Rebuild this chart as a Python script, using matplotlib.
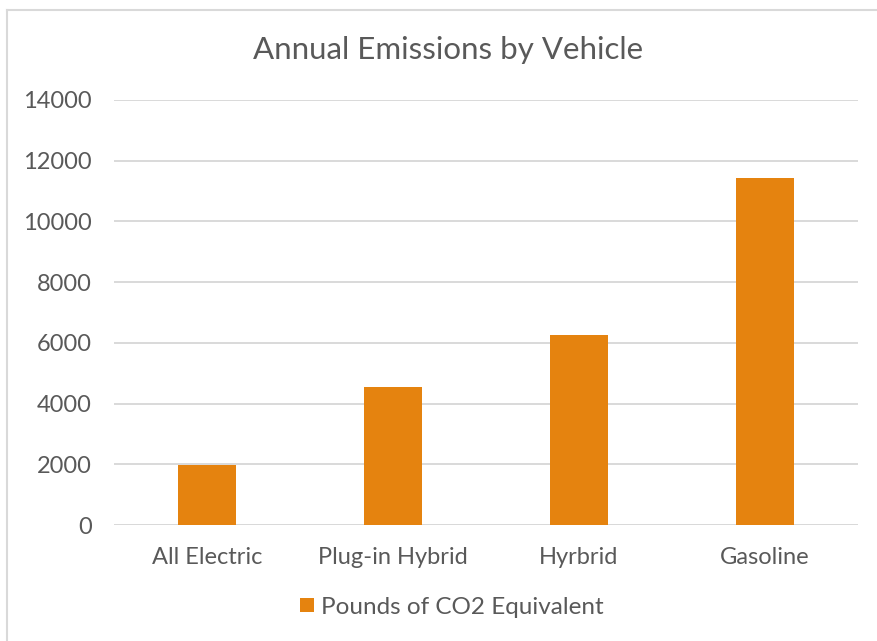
import matplotlib
matplotlib.use("Agg")
import matplotlib.pyplot as plt
from matplotlib.lines import Line2D
from matplotlib.patches import Patch

categories = ["All Electric", "Plug-in Hybrid", "Hyrbrid", "Gasoline"]
values = [1970, 4540, 6260, 11440]
series_name = "Pounds of CO2 Equivalent"
yticks = [0, 2000, 4000, 6000, 8000, 10000, 12000, 14000]

bar_color = "#E5830F"
text_color = "#595959"
grid_color = "#D9D9D9"

plt.rcParams['font.family'] = ['Lato', 'DejaVu Sans']

W, H = 877, 641
fig = plt.figure(figsize=(W/100, H/100), dpi=100)
fig.patch.set_facecolor("white")

# plot area in pixels: x 114..858, y 100..525
ax = fig.add_axes([114/W, 1-525/H, (858-114)/W, (525-100)/H])
x = list(range(len(categories)))
ax.bar(x, values, width=0.312, color=bar_color, zorder=3)
ax.set_xlim(-0.5, len(categories)-0.5)
ax.set_ylim(0, 14000)
ax.set_yticks(yticks)
ax.set_yticklabels([str(v) for v in yticks])
ax.set_xticks(x)
ax.set_xticklabels(categories)
for s in ax.spines.values():
    s.set_visible(False)
ax.yaxis.grid(True, color=grid_color, linewidth=1.4, zorder=0)
ax.set_axisbelow(True)
ax.tick_params(axis='both', length=0, labelsize=17, labelcolor=text_color)
ax.tick_params(axis='y', pad=16)
ax.tick_params(axis='x', pad=16)
ax.axhline(0, color=grid_color, linewidth=1.4, zorder=1)

fig.text(448/W, 1-50/H, "Annual Emissions by Vehicle", ha='center', va='center',
         fontsize=22.5, color=text_color)

handles = [Patch(facecolor=bar_color, edgecolor='none', label=series_name)]
fig.legend(handles=handles, loc='center', bbox_to_anchor=(452/W, 1-607/H),
           frameon=False, fontsize=17.5, labelcolor=text_color,
           handlelength=0.55, handleheight=0.55, handletextpad=0.3)

# chart frame (left and top edges)
fig.add_artist(Line2D([7/W, 7/W], [0, 1-10/H], color=grid_color, linewidth=1.5,
                      transform=fig.transFigure))
fig.add_artist(Line2D([7/W, 1], [1-10/H, 1-10/H], color=grid_color, linewidth=1.5,
                      transform=fig.transFigure))

fig.savefig("out.png", dpi=100)
